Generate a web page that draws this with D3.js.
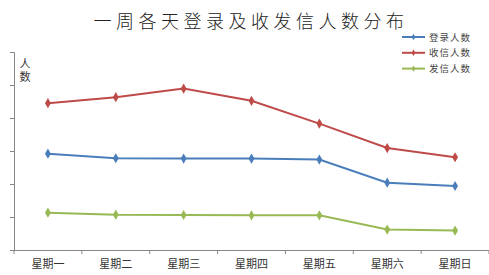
<!DOCTYPE html>
<html>
<head>
<meta charset="utf-8">
<script src="https://cdn.jsdelivr.net/npm/d3@7"></script>
<style>
  body { margin: 0; background: #fff; }
  text { font-family: "Noto Sans CJK SC", "Noto Sans", sans-serif; }
</style>
</head>
<body>
<svg id="chart" width="489" height="275"></svg>
<script>
// data (y axis has no labels, so units are arbitrary)
const days = ["星期一", "星期二", "星期三", "星期四", "星期五", "星期六", "星期日"];
const seriesNames = ["登录人数", "收信人数", "发信人数"];
const loginCounts = [292, 278, 277, 277, 274, 204, 194];
const receiveCounts = [445, 463, 489, 452, 383, 309, 281];
const sendCounts = [113, 107, 106, 105, 105, 62, 59];
const colors = ["#4a7ebb", "#be4b48", "#98b954"];
const yTicks = [0, 100, 200, 300, 400, 500, 600];

const svg = d3.select("#chart");
const margin = {left: 14, right: 0, top: 52, bottom: 25};
const width = 489 - margin.left - margin.right;
const height = 275 - margin.top - margin.bottom;

const g = svg.append("g").attr("transform", `translate(${margin.left},${margin.top})`);

const x = d3.scaleBand().domain(days).range([0, width]);
const y = d3.scaleLinear().domain([0, 600]).range([height, 0]);

// axes
const yAxis = g.append("g")
    .call(d3.axisLeft(y).tickValues(yTicks).tickSize(4).tickFormat(""));
yAxis.selectAll("line, path").attr("stroke", "#868686");

const xAxis = g.append("g")
    .attr("transform", `translate(0,${height})`)
    .call(d3.axisBottom(x).tickSize(0).tickPadding(10));
xAxis.select("path").attr("stroke", "#868686");
xAxis.selectAll("text").attr("font-size", 11).attr("fill", "#333");
// tick marks at category boundaries
xAxis.selectAll(".bound")
    .data(d3.range(days.length + 1))
    .join("line")
    .attr("class", "bound")
    .attr("x1", i => i * x.step()).attr("x2", i => i * x.step())
    .attr("y1", 0).attr("y2", 4)
    .attr("stroke", "#868686");

// lines
const all = [loginCounts, receiveCounts, sendCounts];
const line = d3.line()
    .x((d, i) => x(days[i]) + x.bandwidth() / 2)
    .y(d => y(d));
const diamond = d3.symbol().type(d3.symbolDiamond).size(30);

all.forEach((vals, k) => {
    g.append("path")
        .datum(vals)
        .attr("d", line)
        .attr("fill", "none")
        .attr("stroke", colors[k])
        .attr("stroke-width", 2);
    g.selectAll(".pt" + k)
        .data(vals)
        .join("path")
        .attr("class", "pt" + k)
        .attr("d", diamond)
        .attr("transform", (d, i) => `translate(${x(days[i]) + x.bandwidth() / 2},${y(d)})`)
        .attr("fill", colors[k]);
});

// title
svg.append("text")
    .attr("x", 251).attr("y", 28)
    .attr("text-anchor", "middle")
    .attr("font-size", 18)
    .attr("font-weight", 300)
    .attr("letter-spacing", 4.5)
    .attr("fill", "#222")
    .text("一周各天登录及收发信人数分布");

// y label, written vertically
svg.append("text")
    .attr("x", 25).attr("y", 58)
    .attr("writing-mode", "vertical-rl")
    .attr("font-size", 11)
    .attr("letter-spacing", 2)
    .attr("fill", "#333")
    .text("人数");

// legend
const legend = svg.append("g");
seriesNames.forEach((name, k) => {
    const ly = 37 + k * 15.8;
    legend.append("line")
        .attr("x1", 402).attr("x2", 425).attr("y1", ly).attr("y2", ly)
        .attr("stroke", colors[k]).attr("stroke-width", 2);
    legend.append("path")
        .attr("d", d3.symbol().type(d3.symbolDiamond).size(12))
        .attr("transform", `translate(413.5,${ly})`)
        .attr("fill", colors[k]);
    legend.append("text")
        .attr("x", 429).attr("y", ly + 3.5)
        .attr("font-size", 9.5)
        .attr("letter-spacing", 1)
        .attr("fill", "#444")
        .text(name);
});
</script>
</body>
</html>
